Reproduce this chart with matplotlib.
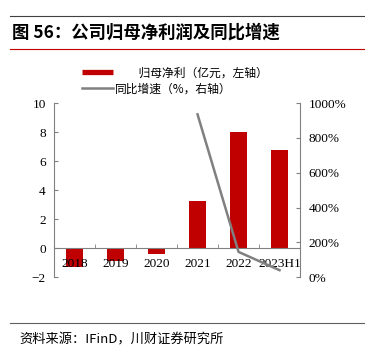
import matplotlib
matplotlib.use("Agg")
import matplotlib.pyplot as plt
import numpy as np
from matplotlib.lines import Line2D
from matplotlib.ticker import FuncFormatter

plt.rcParams['font.family'] = ['Noto Sans CJK SC', 'DejaVu Sans']

years = ['2018', '2019', '2020', '2021', '2022', '2023H1']
profit = [-1.3, -0.9, -0.4, 3.25, 8.0, 6.75]          # 归母净利（亿元）
growth = [np.nan, np.nan, np.nan, 935, 145, 40]       # 同比增速（%）

red = '#C00000'
grey = '#808080'
serif = 'Liberation Serif'

fig = plt.figure(figsize=(3.65, 3.59), dpi=100)
ax = fig.add_axes([0.148, 0.228, 0.674, 0.485])
ax2 = ax.twinx()

x = np.arange(len(years))
ax.bar(x, profit, width=0.4, color=red, zorder=1)
ax2.plot(x, growth, color=grey, lw=1.8)

ax.set_xlim(-0.5, len(years) - 0.5)
ax.set_ylim(-2, 10)
ax.set_yticks(range(-2, 11, 2))
ax2.set_ylim(0, 1000)
ax2.set_yticks(range(0, 1001, 200))
ax2.yaxis.set_major_formatter(FuncFormatter(lambda v, p: '%d%%' % v))

# x axis sits on zero, ticks at category borders
ax.spines['bottom'].set_position(('data', 0))
ax.set_xticks(x)
ax.set_xticklabels(years)
ax.set_xticks(np.arange(0.5, len(years) - 0.5, 1), minor=True)
ax.tick_params(axis='x', which='major', length=0, pad=7)
ax.tick_params(axis='x', which='minor', direction='in', length=3, color=grey)

for a in (ax, ax2):
    a.spines['top'].set_visible(False)
    for s in a.spines.values():
        s.set_color(grey)
ax.spines['right'].set_visible(False)
ax2.spines['left'].set_visible(False)
ax2.spines['bottom'].set_visible(False)

ax.tick_params(axis='y', direction='in', length=3, color=grey, pad=6)
ax2.tick_params(axis='y', direction='in', length=3, color=grey, pad=6)
for lab in ax.get_xticklabels() + ax.get_yticklabels() + ax2.get_yticklabels():
    lab.set_fontfamily(serif)
    lab.set_fontsize(9.5)

# legend
handles = [Line2D([], [], color=red, lw=3.8, solid_capstyle='butt'),
           Line2D([], [], color=grey, lw=1.8)]
labels = ['\u3000\u3000归母净利（亿元，左轴）', '同比增速（%，右轴）']
fig.legend(handles, labels, loc='upper left', bbox_to_anchor=(0.225, 0.815),
           frameon=False, fontsize=8.5, handlelength=2.6, handletextpad=0.2,
           labelspacing=0.25, borderpad=0, borderaxespad=0)

# title, rules, source
fig.add_artist(Line2D([0.027, 1.0], [0.955, 0.955], color='#404040', lw=0.8))
fig.add_artist(Line2D([0.027, 1.0], [0.863, 0.863], color='#C00000', lw=0.8))
fig.text(0.033, 0.908, '图 56：公司归母净利润及同比增速', fontsize=12.5,
         fontweight='bold', va='center', ha='left')
fig.add_artist(Line2D([0.027, 1.0], [0.100, 0.100], color='#606060', lw=0.8))
fig.text(0.052, 0.053, '资料来源：IFinD，川财证券研究所', fontsize=9.5,
         style='italic', va='center', ha='left')

fig.savefig('out.png', dpi=100)
